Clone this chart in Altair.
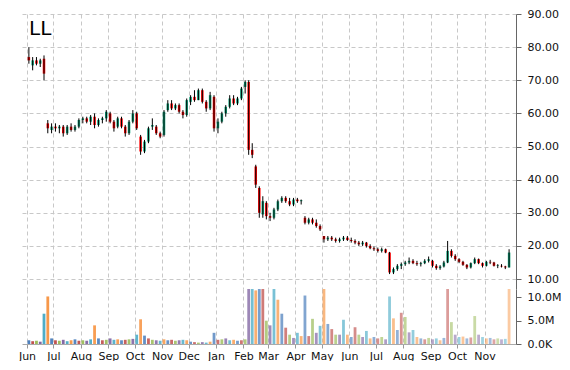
import altair as alt
import numpy as np
import pandas as pd

# ---- data (7 candles per month, Jun 2014 .. Nov 2015) ----
months = ["2014-06", "2014-07", "2014-08", "2014-09", "2014-10", "2014-11",
          "2014-12", "2015-01", "2015-02", "2015-03", "2015-04", "2015-05",
          "2015-06", "2015-07", "2015-08", "2015-09", "2015-10", "2015-11"]

opens = [
    77, 74.5, 76, 75, 76.5, 57, 55,
    56, 55.5, 56, 54, 56, 55, 56,
    58, 58.5, 57.5, 59, 56.5, 58, 58.5,
    60, 57.5, 56, 58.5, 56, 54, 57.5,
    60, 53, 48.5, 51.5, 56, 56, 54,
    53.5, 61, 63, 61.5, 62.5, 60.5, 59.5,
    63.5, 65, 64, 67, 63.5, 61.5, 65,
    55.5, 57.5, 60, 62, 64.5, 63, 64.5,
    68, 69.5, 49, 44, 37.5, 29.5, 33,
    29, 28.5, 31, 33.5, 34.5, 33.5, 32.5,
    34, 33.5, 28.5, 27, 28, 27, 26,
    23, 22, 22.5, 22, 21.5, 22, 22.5,
    21.8, 21.5, 21, 20.5, 21, 20, 19.3,
    19, 18.5, 19, 18, 12, 13, 14,
    14.5, 15, 15.5, 14.8, 14.5, 14.8, 15.5,
    15.5, 14, 13.3, 13.8, 15, 18.5, 17,
    16, 15.2, 14.3, 13.5, 14.8, 16, 14.8,
    14, 15.2, 15, 14, 14, 13.8, 13.5,
]
highs = [
    80, 77, 77, 76.5, 77.5, 58, 57,
    57, 56.5, 56.5, 56.5, 57, 56.5, 58.5,
    59, 59, 59.5, 60, 58.5, 59, 61,
    60.5, 58, 59, 59, 56.5, 58, 61,
    60.5, 53.5, 52, 56, 58.5, 56.5, 54.5,
    61, 64, 64, 63, 63, 61, 64.5,
    65.5, 67, 67.5, 67.5, 64, 66.5, 65.5,
    58.5, 60.5, 62.5, 65.5, 65.5, 65, 68,
    70, 70, 51, 44.5, 38, 35, 33.5,
    30, 31.5, 34, 35, 35, 34.5, 34.5,
    34.5, 34, 29, 28.5, 28.5, 28, 26.5,
    23, 23, 23, 22.5, 22.5, 23, 23,
    22.5, 22, 21.5, 21.5, 21.2, 20.5, 19.8,
    19.5, 19.5, 19.2, 18.2, 13.5, 14.5, 15,
    15.5, 16.5, 16, 15.5, 15.2, 16, 16.8,
    15.8, 14.5, 14.2, 15.5, 21.5, 19, 17.5,
    16.3, 15.5, 14.5, 15, 16.5, 16.2, 15,
    15.5, 15.8, 15.2, 14.5, 14.5, 14, 19,
]
lows = [
    75, 73, 74.5, 74, 70, 54, 54,
    54.5, 54, 53, 53.5, 54.5, 54.5, 55.5,
    57, 57, 56.5, 55.5, 56, 57, 57.5,
    57, 54.5, 55.5, 55.5, 53, 53.5, 57,
    55, 47.5, 48, 51, 55, 53.5, 52.5,
    53, 60.5, 61, 61, 60, 58.5, 59,
    62.5, 63.5, 64, 63, 60.5, 61, 54.5,
    54, 57, 59, 61.5, 62.5, 62.5, 64,
    66, 47.5, 46.5, 37.5, 28.5, 28.5, 28,
    27.5, 28, 30.5, 33, 33, 32, 32,
    33, 32.5, 26.5, 26.5, 26.5, 25.5, 24.5,
    21, 21.5, 21.5, 21, 21, 21.5, 21.5,
    21, 20.5, 20, 20, 19.5, 19, 18.5,
    18, 18, 17.8, 11.5, 11.5, 12.5, 13,
    14, 14.5, 14.5, 14, 13.8, 14.5, 15,
    13.5, 12.8, 12.8, 13.5, 14.8, 16.5, 15.5,
    14.8, 14, 13, 13.2, 14.5, 14.5, 13.5,
    13.8, 14.5, 13.8, 13.3, 13.5, 13, 13.5,
]
closes = [
    76, 76, 75, 76, 72, 55.5, 56,
    55.5, 56, 54, 56, 55, 56, 58,
    58.5, 57.5, 59, 56.5, 58, 58.5, 60.5,
    57.5, 55.5, 58.5, 56, 54, 57.5, 60,
    55.5, 48.5, 51.5, 55.5, 56.5, 54, 53,
    60.5, 63, 61.5, 62.5, 60.5, 59.5, 64,
    65, 64, 67, 63.5, 61.5, 65.5, 55.5,
    57.5, 60, 62, 64.5, 63, 64.5, 67.5,
    69.5, 49, 47.5, 38.5, 30, 33.5, 29,
    28.5, 31, 33.5, 34.5, 33.5, 32.5, 34,
    33.5, 33.8, 27, 28, 27, 26, 25,
    22, 22.5, 22, 21.5, 22, 22.5, 21.8,
    21.5, 21, 20.5, 21, 20, 19.3, 19,
    18.5, 19, 18, 12, 13, 14, 14.5,
    15, 15.5, 14.8, 14.5, 14.8, 15.5, 16,
    14, 13.3, 13.8, 15, 18.5, 17, 16,
    15.2, 14.3, 13.5, 14.8, 16, 14.8, 14,
    15.2, 15, 14, 14.2, 13.8, 13.5, 18,
]
volumes_m = [
    0.8, 0.6, 0.7, 0.5, 6.5, 10.2, 1.2,
    0.8, 0.7, 0.9, 0.6, 0.8, 1.0, 0.7,
    0.8, 0.7, 1.0, 4.0, 1.2, 0.8, 0.9,
    1.2, 0.9, 1.0, 0.8, 0.9, 1.0, 1.1,
    2.0, 5.3, 1.8, 1.2, 0.9, 0.8, 0.7,
    1.0, 0.8, 0.9, 0.7, 0.8, 0.9, 0.8,
    0.5, 0.4, 0.3, 0.4, 0.3, 0.5, 2.4,
    0.9, 1.0, 1.2, 0.8, 0.9, 0.7, 0.8,
    1.0, 11.8, 11.8, 11.5, 11.8, 11.8, 5.0,
    4.0, 11.8, 9.5, 6.5, 3.5, 2.0, 1.3,
    2.4, 1.7, 10.4, 1.7, 5.4, 2.4, 3.9,
    11.8, 4.3, 3.2, 2.0, 2.0, 5.2, 2.0,
    1.5, 3.6, 2.0, 1.5, 2.8, 1.2, 1.5,
    1.2, 1.5, 1.0, 10.2, 5.5, 3.0, 6.7,
    5.8, 2.5, 3.0, 1.5, 1.2, 1.0, 1.3,
    1.0, 1.2, 0.8, 1.3, 11.8, 4.7, 2.0,
    1.5, 1.6, 1.2, 1.4, 6.0, 2.0, 1.5,
    1.2, 1.3, 1.0, 1.2, 1.0, 1.1, 11.8,
]
price_ticks = [10, 20, 30, 40, 50, 60, 70, 80, 90]
volume_ticks = [0, 5, 10]
ticker = "LL"

# ---- table ----
PER_MONTH = 7
month_starts = pd.date_range("2014-06-01", periods=len(months) + 1, freq="MS")
dates = []
for m in range(len(months)):
    span = month_starts[m + 1] - month_starts[m]
    for i in range(PER_MONTH):
        dates.append((month_starts[m] + span * (i + 0.5) / PER_MONTH).floor("h"))

df = pd.DataFrame({"date": dates, "open": opens, "high": highs, "low": lows,
                   "close": closes, "volume": volumes_m})
df["dir"] = np.where(df["close"] >= df["open"], "up", "down")
n = len(df)
df["pal"] = [str(i % 6) for i in range(n)]
df["fade"] = [1.0 - 0.5 * i / (n - 1) for i in range(n)]

FONT = "DejaVu Sans"
GRID = "#c8c8c8"
AX = "#666666"

month_vals = [alt.DateTime(year=int(t.year), month=int(t.month), date=1) for t in month_starts[:-1]]
xscale = alt.Scale(domain=[alt.DateTime(year=2014, month=6, date=1),
                           alt.DateTime(year=2015, month=12, date=1)])

price_axis = alt.Axis(orient="right", values=price_ticks, format=".2f", grid=True,
                      gridDash=[4, 3], gridColor=GRID, tickSize=5, tickColor=AX,
                      domainColor=AX, labelPadding=6, labelFontSize=11,
                      labelFont=FONT, labelColor="#111111", title=None)
yscale = alt.Scale(domain=[7, 90], nice=False, zero=False)

x_price = alt.X("date:T", scale=xscale,
                axis=alt.Axis(values=month_vals, grid=True, labels=False, ticks=False,
                              domain=False, gridDash=[4, 3], gridColor=GRID, title=None))

body = alt.Chart(df).mark_bar(width=2.5, clip=True).encode(
    x=x_price,
    y=alt.Y("open:Q", scale=yscale, axis=price_axis),
    y2="close:Q",
    color=alt.Color("dir:N", scale=alt.Scale(domain=["up", "down"],
                                             range=["#10a27a", "#ff0000"]), legend=None),
)
wick = alt.Chart(df).mark_rule(color="black", strokeWidth=1, clip=True).encode(
    x=x_price,
    y=alt.Y("low:Q", scale=yscale, axis=price_axis),
    y2="high:Q",
)
label = alt.Chart(pd.DataFrame({"t": [ticker]})).mark_text(
    align="left", baseline="top", fontSize=20, font=FONT, color="#000000"
).encode(x=alt.value(7), y=alt.value(5), text="t:N")

price = alt.layer(body, wick, label).properties(width=494, height=275)

palette = ["#4F81BD", "#C0504D", "#9BBB59", "#8064A2", "#4BACC6", "#F79646"]
vol = alt.Chart(df).mark_bar(width=2.8, clip=True).encode(
    x=alt.X("date:T", scale=xscale,
            axis=alt.Axis(values=month_vals, format="%b", grid=True, gridDash=[4, 3],
                          gridColor=GRID, tickSize=4, tickColor="#999999",
                          domainColor="#aaaaaa", labelFlush=False, labelFontSize=11,
                          labelFont=FONT, labelColor="#111111", labelPadding=2,
                          title=None)),
    y=alt.Y("volume:Q", scale=alt.Scale(domain=[0, 11.8], nice=False),
            axis=alt.Axis(orient="right", values=volume_ticks, grid=False, tickSize=5,
                          tickColor=AX, domainColor=AX, labelPadding=6,
                          labelFontSize=11, labelFont=FONT, labelColor="#111111",
                          labelExpr="datum.value == 0 ? '0.0K' : format(datum.value, '.1f') + 'M'",
                          title=None)),
    color=alt.Color("pal:N", scale=alt.Scale(domain=[str(i) for i in range(6)], range=palette),
                    legend=None),
    opacity=alt.Opacity("fade:Q", scale=None, legend=None),
).properties(width=494, height=55)

chart = alt.vconcat(price, vol, spacing=0).resolve_scale(color="independent").properties(
    padding={"left": 10, "top": 0, "right": 0, "bottom": 0}
).configure_view(stroke=None)

chart.save("out.html", embed_options={"renderer": "svg", "actions": False})
